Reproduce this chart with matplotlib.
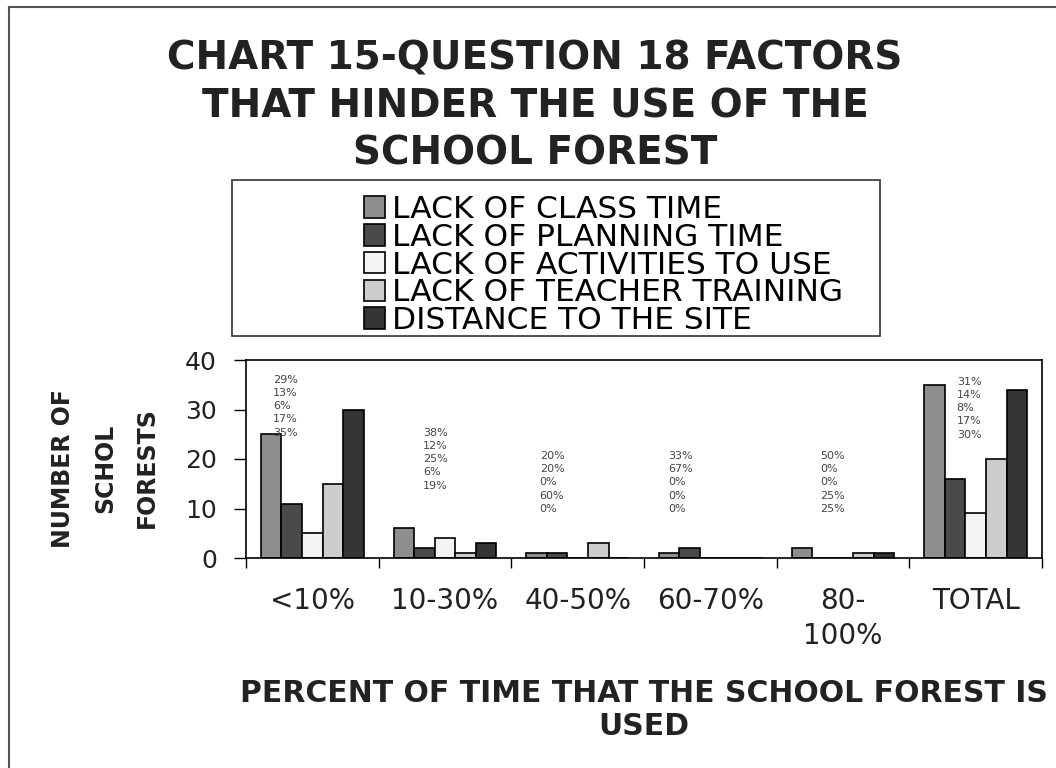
import matplotlib
matplotlib.use("Agg")
import matplotlib.pyplot as plt
import numpy as np
from matplotlib.lines import Line2D
from matplotlib.patches import Rectangle

# data
categories = ["<10%", "10-30%", "40-50%", "60-70%", "80-\n100%", "TOTAL"]
series_names = ["LACK OF CLASS TIME", "LACK OF PLANNING TIME", "LACK OF ACTIVITIES TO USE",
                "LACK OF TEACHER TRAINING", "DISTANCE TO THE SITE"]
class_time = [25, 6, 1, 1, 2, 35]
planning_time = [11, 2, 1, 2, 0, 16]
activities = [5, 4, 0, 0, 0, 9]
teacher_training = [15, 1, 3, 0, 1, 20]
distance = [30, 3, 0, 0, 1, 34]
pct_labels = [
    ["29", "13", "6", "17", "35"],
    ["38", "12", "25", "6", "19"],
    ["20", "20", "0", "60", "0"],
    ["33", "67", "0", "0", "0"],
    ["50", "0", "0", "25", "25"],
    ["31", "14", "8", "17", "30"],
]

# layout for the percent text blocks (offset from group centre, top y)
pct_dx = [-0.296, -0.166, -0.286, -0.32, -0.175, -0.143]
pct_top = [37.0, 26.3, 21.6, 21.6, 21.6, 36.6]

colors = ["#8e8e8e", "#4a4a4a", "#f4f4f4", "#cdcdcd", "#353535"]

plt.rcParams["font.family"] = "DejaVu Sans"
W, H = 1056, 768
fig = plt.figure(figsize=(W / 100, H / 100), dpi=100)
ax = fig.add_axes([246 / W, 1 - 558 / H, (1042 - 246) / W, (558 - 360) / H])

x = np.arange(len(categories))
width = 0.155
all_series = [class_time, planning_time, activities, teacher_training, distance]
for i, vals in enumerate(all_series):
    ax.bar(x + (i - 2) * width, vals, width, color=colors[i], edgecolor="black",
           linewidth=1.2, label=series_names[i])

for j, pcts in enumerate(pct_labels):
    ax.text(j + pct_dx[j], pct_top[j], "\n".join(p + "%" for p in pcts),
            ha="left", va="top", fontsize=8, linespacing=1.4, color="#444444")

ax.set_xlim(-0.5, len(categories) - 0.5)
ax.set_ylim(0, 40)
ax.set_yticks([0, 10, 20, 30, 40])
ax.set_xticks(x)
ax.set_xticklabels(categories, fontsize=20, linespacing=1.3, color="#222222")
ax.set_xticks(np.arange(-0.5, len(categories), 1), minor=True)
ax.tick_params(axis="x", which="major", length=0, pad=21)
ax.tick_params(axis="x", which="minor", length=7, width=1, direction="out")
ax.tick_params(axis="y", length=9, width=1, pad=12, labelsize=18, labelcolor="#222222")
for s in ax.spines.values():
    s.set_linewidth(1.2)

# legend with its own box
ax.legend(loc="center left", bbox_to_anchor=(364 / W, 1 - 265 / H),
          bbox_transform=fig.transFigure, frameon=False, fontsize=22.5,
          handlelength=0.68, handleheight=0.68, handletextpad=0.2,
          labelspacing=-0.04, borderpad=0, borderaxespad=0)
fig.add_artist(Rectangle((232 / W, 1 - 336 / H), (880 - 232) / W, (336 - 180) / H,
                         transform=fig.transFigure, fill=False, edgecolor="#333333", lw=1.2))

fig.text(535 / W, 1 - 106 / H, "CHART 15-QUESTION 18 FACTORS\nTHAT HINDER THE USE OF THE\nSCHOOL FOREST",
         ha="center", va="center", fontsize=28, fontweight="bold", linespacing=1.31,
         color="#222222")
fig.text(105 / W, 1 - 468 / H, "NUMBER OF\nSCHOL\nFORESTS", rotation=90,
         ha="center", va="center", multialignment="center", fontsize=17,
         fontweight="bold", linespacing=1.96, color="#222222")
fig.text(644 / W, 1 - 710 / H, "PERCENT OF TIME THAT THE SCHOOL FOREST IS\nUSED",
         ha="center", va="center", multialignment="center", fontsize=21.5,
         fontweight="bold", linespacing=1.2, color="#222222")

# page frame (left and top edge of the scanned box)
fig.add_artist(Line2D([9 / W, 9 / W], [0, 1 - 7 / H], transform=fig.transFigure,
                      color="#555555", lw=1.5))
fig.add_artist(Line2D([9 / W, 1], [1 - 7 / H, 1 - 7 / H], transform=fig.transFigure,
                      color="#555555", lw=1.5))

plt.savefig("out.png", dpi=100)
plt.close("all")
